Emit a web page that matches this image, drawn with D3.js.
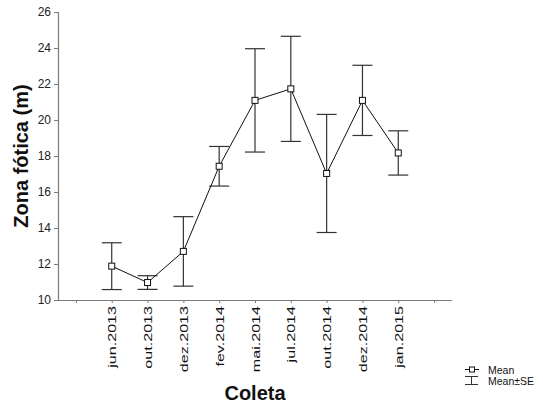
<!DOCTYPE html>
<html>
<head>
<meta charset="utf-8">
<script src="https://cdn.jsdelivr.net/npm/d3@7"></script>
<style>
  html, body { margin: 0; padding: 0; background: #fff; }
  svg { display: block; font-family: Arial, "Liberation Sans", sans-serif; }
</style>
</head>
<body>
<svg id="chart" width="543" height="404"></svg>
<script>
// Sampling dates, mean photic zone depth and its standard error
const coletas = ["jun.2013", "out.2013", "dez.2013", "fev.2014", "mai.2014", "jul.2014", "out.2014", "dez.2014", "jan.2015"];
const media = [11.88, 10.97, 12.70, 17.43, 21.09, 21.73, 17.03, 21.09, 18.17];
const erroPadrao = [1.30, 0.38, 1.93, 1.10, 2.87, 2.92, 3.28, 1.95, 1.23];
const yTicks = [10, 12, 14, 16, 18, 20, 22, 24, 26];

const svg = d3.select("#chart");
const plotLeft = 58, plotRight = 452, plotTop = 12, plotBottom = 300;

// one empty slot before the first and after the last sample
const x = d3.scaleLinear().domain([-1.5, coletas.length + 0.5]).range([plotLeft, plotRight]);
const y = d3.scaleLinear().domain([10, 26]).range([plotBottom, plotTop]);

const axisColor = "#7a7a7a";

// Y axis
const yAxis = svg.append("g").attr("transform", `translate(${plotLeft},0)`)
  .call(d3.axisLeft(y).tickValues(yTicks).tickSize(4).tickPadding(3).tickFormat(d3.format("d")));
yAxis.select(".domain").attr("stroke", axisColor).attr("stroke-width", 1.2);
yAxis.selectAll(".tick line").attr("stroke", axisColor);
yAxis.selectAll(".tick text").attr("font-size", 12).attr("fill", "#222").attr("font-family", "Arial, 'Liberation Sans', sans-serif");

// X axis
const xTickIdx = d3.range(-1, coletas.length + 1);
const xAxis = svg.append("g").attr("transform", `translate(0,${plotBottom})`)
  .call(d3.axisBottom(x).tickValues(xTickIdx).tickSize(3).tickFormat(""));
xAxis.select(".domain").attr("stroke", axisColor).attr("stroke-width", 1.2)
  .attr("d", `M${plotLeft},0.5H${plotRight}`);
xAxis.selectAll(".tick line").attr("stroke", axisColor);

// rotated category labels
svg.append("g").selectAll("text").data(coletas).join("text")
  .attr("transform", (d, i) => `translate(${x(i) + 4.5},${plotBottom + 6}) rotate(-90) scale(1.4,1)`)
  .attr("text-anchor", "end")
  .attr("font-size", 11.5)
  .attr("fill", "#111")
  .text(d => d);

// axis titles
svg.append("text")
  .attr("transform", `translate(${28},${(plotTop + plotBottom) / 2}) rotate(-90)`)
  .attr("text-anchor", "middle")
  .attr("font-size", 20).attr("font-weight", "bold").attr("fill", "#111")
  .text("Zona fótica (m)");

svg.append("text")
  .attr("x", (plotLeft + plotRight) / 2).attr("y", 400)
  .attr("text-anchor", "middle")
  .attr("font-size", 20).attr("font-weight", "bold").attr("fill", "#111")
  .text("Coleta");

// error bars (mean ± SE)
const capHalf = 10;
const bars = svg.append("g").attr("stroke", "#333").attr("stroke-width", 1.2);
coletas.forEach((c, i) => {
  const hi = y(media[i] + erroPadrao[i]), lo = y(media[i] - erroPadrao[i]), cx = x(i);
  bars.append("line").attr("x1", cx).attr("x2", cx).attr("y1", hi).attr("y2", lo);
  bars.append("line").attr("x1", cx - capHalf).attr("x2", cx + capHalf).attr("y1", hi).attr("y2", hi);
  bars.append("line").attr("x1", cx - capHalf).attr("x2", cx + capHalf).attr("y1", lo).attr("y2", lo);
});

// mean line
const line = d3.line().x((d, i) => x(i)).y(d => y(d));
svg.append("path").datum(media)
  .attr("d", line).attr("fill", "none").attr("stroke", "#111").attr("stroke-width", 1);

// mean markers
const ms = 6;
svg.append("g").selectAll("rect").data(media).join("rect")
  .attr("x", (d, i) => x(i) - ms / 2).attr("y", d => y(d) - ms / 2)
  .attr("width", ms).attr("height", ms)
  .attr("fill", "#fff").attr("stroke", "#111").attr("stroke-width", 1);

// legend
const lg = svg.append("g");
lg.append("line").attr("x1", 465).attr("x2", 479).attr("y1", 369.5).attr("y2", 369.5).attr("stroke", "#111");
lg.append("rect").attr("x", 469.5).attr("y", 367).attr("width", 5).attr("height", 5)
  .attr("fill", "#fff").attr("stroke", "#111");
lg.append("text").attr("x", 488).attr("y", 373.5).attr("font-size", 10.5).attr("fill", "#111").text("Mean");
lg.append("line").attr("x1", 465).attr("x2", 478).attr("y1", 376.5).attr("y2", 376.5).attr("stroke", "#333");
lg.append("line").attr("x1", 471.5).attr("x2", 471.5).attr("y1", 376.5).attr("y2", 384.5).attr("stroke", "#333");
lg.append("line").attr("x1", 465).attr("x2", 478).attr("y1", 384.5).attr("y2", 384.5).attr("stroke", "#333");
lg.append("text").attr("x", 488).attr("y", 384.5).attr("font-size", 10.5).attr("fill", "#111").text("Mean±SE");
</script>
</body>
</html>
